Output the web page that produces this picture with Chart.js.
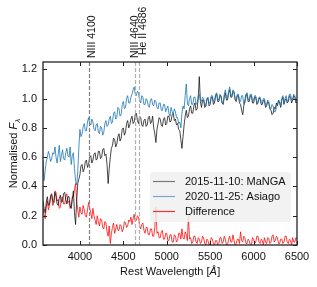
<!DOCTYPE html>
<html>
<head>
<meta charset="utf-8">
<script src="https://cdn.jsdelivr.net/npm/chart.js@4"></script>
<style>
  body { margin: 0; background: #fff; }
</style>
</head>
<body>
<canvas id="specChart" width="317" height="287"></canvas>
<script>
// wavelength grid (Angstrom), one sample every 12.5 A starting at 3575
const waveStart = 3575
const waveStep = 12.5

// 2015-11-10 MaNGA spectrum (one row = 250 A)
const manga = [
  0.30, 0.25, 0.22, 0.29, 0.33, 0.27, 0.28, 0.34, 0.35, 0.30, 0.29, 0.36, 0.33, 0.28, 0.27, 0.32, 0.34, 0.29, 0.30, 0.35,
  0.36, 0.31, 0.28, 0.33, 0.33, 0.27, 0.25, 0.31, 0.37, 0.22, 0.14, 0.30, 0.42, 0.45, 0.48, 0.54, 0.55, 0.50, 0.52, 0.57,
  0.58, 0.53, 0.55, 0.60, 0.61, 0.56, 0.58, 0.62, 0.63, 0.58, 0.59, 0.64, 0.64, 0.59, 0.60, 0.65, 0.66, 0.61, 0.62, 0.55,
  0.42, 0.52, 0.60, 0.66, 0.68, 0.73, 0.72, 0.67, 0.69, 0.74, 0.76, 0.71, 0.73, 0.79, 0.80, 0.75, 0.77, 0.83, 0.85, 0.80,
  0.82, 0.86, 0.88, 0.83, 0.84, 0.89, 0.90, 0.85, 0.83, 0.88, 0.87, 0.82, 0.81, 0.85, 0.86, 0.81, 0.82, 0.87, 0.88, 0.83,
  0.84, 0.88, 0.80, 0.76, 0.70, 0.79, 0.83, 0.87, 0.86, 0.82, 0.81, 0.86, 0.87, 0.82, 0.83, 0.88, 0.88, 0.84, 0.85, 0.89,
  0.90, 0.85, 0.86, 0.82, 0.83, 0.79, 0.78, 0.72, 0.66, 0.74, 0.82, 0.88, 0.92, 0.87, 0.88, 0.93, 0.95, 0.90, 0.90, 0.95,
  0.97, 0.92, 0.93, 1.00, 1.15, 0.98, 0.94, 0.99, 0.99, 0.94, 0.95, 1.00, 1.00, 0.95, 0.96, 1.01, 1.01, 0.96, 0.97, 1.02,
  1.03, 0.98, 0.98, 1.02, 1.02, 0.97, 0.96, 1.01, 1.04, 0.99, 0.99, 1.04, 1.06, 1.01, 1.01, 1.05, 1.04, 0.99, 0.98, 1.02,
  1.02, 0.97, 0.96, 0.92, 0.89, 0.95, 0.99, 1.03, 1.03, 0.98, 0.98, 1.02, 1.02, 0.97, 0.97, 1.01, 1.01, 0.96, 0.97, 1.00,
  1.00, 0.96, 0.96, 0.99, 0.99, 0.94, 0.95, 0.98, 0.97, 0.93, 0.92, 0.89, 0.90, 0.94, 0.93, 0.97, 0.95, 0.99, 0.97, 0.94,
  0.99, 1.01, 0.96, 0.99, 1.00, 0.97, 0.98, 1.02, 1.01, 0.97, 0.99, 1.02, 1.01, 0.97, 0.98
]
// 2020-11-25 Asiago spectrum
const asiago = [
  0.58, 0.44, 0.51, 0.57, 0.60, 0.64, 0.61, 0.57, 0.59, 0.63, 0.62, 0.67, 0.60, 0.56, 0.62, 0.68, 0.57, 0.61, 0.65, 0.59,
  0.58, 0.63, 0.66, 0.61, 0.60, 0.67, 0.55, 0.61, 0.63, 0.52, 0.44, 0.41, 0.50, 0.66, 0.79, 0.74, 0.76, 0.81, 0.83, 0.78,
  0.78, 0.84, 0.87, 0.83, 0.82, 0.86, 0.84, 0.79, 0.78, 0.82, 0.83, 0.77, 0.76, 0.81, 0.80, 0.75, 0.77, 0.83, 0.85, 0.81,
  0.82, 0.86, 0.88, 0.83, 0.84, 0.90, 0.91, 0.86, 0.87, 0.94, 0.93, 0.88, 0.89, 0.96, 0.98, 0.93, 0.94, 1.00, 1.02, 0.97,
  0.97, 1.01, 1.03, 1.06, 1.08, 1.03, 1.02, 1.05, 1.04, 0.99, 0.97, 1.02, 1.01, 0.96, 0.96, 1.00, 0.99, 0.95, 0.94, 0.99,
  1.00, 0.96, 0.95, 0.99, 0.98, 0.94, 0.93, 0.97, 0.97, 0.92, 0.92, 0.96, 0.96, 0.91, 0.93, 0.95, 0.90, 0.88, 0.94, 0.91,
  0.89, 0.93, 0.91, 0.87, 0.87, 0.83, 0.84, 0.80, 0.90, 0.95, 0.93, 1.02, 1.10, 0.97, 0.95, 1.00, 1.02, 0.96, 0.96, 1.01,
  1.01, 0.96, 0.97, 1.02, 1.03, 0.99, 0.98, 1.01, 1.00, 0.96, 0.95, 0.99, 1.01, 0.97, 0.97, 1.02, 1.02, 0.98, 0.98, 1.03,
  1.04, 1.00, 0.99, 1.03, 1.01, 0.97, 0.97, 1.03, 1.06, 1.01, 1.00, 1.05, 1.08, 1.03, 1.02, 1.06, 1.05, 1.00, 0.99, 1.03,
  1.03, 0.99, 0.98, 1.02, 1.02, 0.96, 0.97, 1.01, 1.04, 0.99, 1.00, 1.03, 1.03, 0.98, 0.99, 1.02, 1.02, 0.97, 0.98, 1.01,
  1.01, 0.98, 0.97, 1.00, 1.00, 0.95, 0.96, 0.99, 0.98, 0.94, 0.93, 0.96, 0.95, 0.91, 0.91, 0.94, 0.96, 0.99, 0.98, 0.95,
  1.00, 1.02, 0.97, 1.00, 1.02, 0.98, 0.99, 1.03, 1.03, 0.99, 1.00, 1.03, 1.02, 0.98, 0.99
]
// difference spectrum
const difference = [
  0.25, 0.21, 0.18, 0.26, 0.30, 0.24, 0.27, 0.33, 0.34, 0.27, 0.29, 0.37, 0.36, 0.30, 0.31, 0.25, 0.26, 0.32, 0.33, 0.28,
  0.28, 0.33, 0.35, 0.29, 0.30, 0.25, 0.27, 0.33, 0.33, 0.38, 0.42, 0.30, 0.24, 0.19, 0.26, 0.22, 0.21, 0.27, 0.24, 0.20,
  0.19, 0.24, 0.29, 0.25, 0.22, 0.18, 0.25, 0.20, 0.17, 0.14, 0.20, 0.16, 0.13, 0.18, 0.17, 0.12, 0.11, 0.16, 0.15, 0.09,
  0.06, 0.13, 0.01, 0.08, 0.12, 0.15, 0.08, 0.11, 0.14, 0.10, 0.10, 0.14, 0.13, 0.09, 0.11, 0.16, 0.15, 0.12, 0.13, 0.17,
  0.16, 0.19, 0.14, 0.18, 0.21, 0.16, 0.17, 0.20, 0.19, 0.13, 0.11, 0.14, 0.15, 0.10, 0.08, 0.12, 0.12, 0.07, 0.07, 0.11,
  0.11, 0.06, 0.06, 0.12, 0.26, 0.08, 0.09, 0.05, 0.05, 0.09, 0.10, 0.04, 0.04, 0.08, 0.08, 0.03, 0.03, 0.07, 0.07, 0.02,
  0.02, 0.07, 0.06, 0.02, 0.03, 0.08, 0.08, 0.04, 0.11, 0.05, 0.04, 0.09, 0.07, 0.03, 0.20, 0.04, 0.05, 0.01, 0.02, 0.06,
  0.06, 0.02, 0.01, 0.05, 0.04, 0.01, 0.02, 0.06, 0.05, 0.01, 0.00, 0.04, 0.03, 0.00, 0.01, 0.05, 0.04, 0.01, 0.00, 0.03,
  0.03, 0.00, 0.01, 0.05, 0.05, 0.01, 0.02, 0.06, 0.04, 0.00, 0.00, 0.04, 0.06, 0.02, 0.02, 0.07, 0.03, 0.00, 0.01, 0.04,
  0.04, 0.01, 0.09, 0.03, 0.02, 0.06, 0.05, 0.01, 0.01, 0.04, 0.03, 0.00, 0.00, 0.05, 0.04, 0.01, 0.02, 0.06, 0.06, 0.02,
  0.01, 0.04, 0.03, 0.00, 0.05, 0.02, 0.01, 0.05, 0.04, 0.01, 0.02, 0.06, 0.07, 0.02, 0.03, 0.06, 0.05, 0.01, 0.01, 0.04,
  0.04, 0.01, 0.02, 0.06, 0.06, 0.02, 0.01, 0.04, 0.03, 0.00, 0.05, 0.02, 0.02, 0.05, 0.04
]

const xTicks = [4000, 4500, 5000, 5500, 6000, 6500]
const yTicks = [0.0, 0.2, 0.4, 0.6, 0.8, 1.0, 1.2]
const lineWaves = [4100, 4640, 4686]
const lineNames = ['NIII 4100', 'NIII 4640', 'He II 4686']
const seriesNames = ['2015-11-10: MaNGA', '2020-11-25: Asiago', 'Difference']

const FONT = '"Liberation Sans", Arial, sans-serif'
const colors = {
  black: 'rgba(15, 15, 15, 0.85)',
  blue: 'rgba(31, 119, 180, 0.9)',
  red: 'rgba(255, 0, 0, 0.85)'
}

function toPoints(vals) {
  return vals.map((v, i) => ({ x: waveStart + i * waveStep, y: v }))
}

// frame, inward ticks, line markers, legend, axis titles
const decor = {
  id: 'decor',
  afterDatasetsDraw(chart) {
    const ctx = chart.ctx
    const a = chart.chartArea
    const xs = chart.scales.x
    const ys = chart.scales.y
    ctx.save()

    // emission line markers
    lineWaves.forEach((w, k) => {
      const px = Math.round(xs.getPixelForValue(w)) + 0.5
      ctx.strokeStyle = k === 0 ? '#808080' : '#b0b0b0'
      ctx.lineWidth = 1.2
      ctx.setLineDash([4, 2])
      ctx.beginPath()
      ctx.moveTo(px, a.top)
      ctx.lineTo(px, a.bottom)
      ctx.stroke()
    })
    ctx.setLineDash([])

    // legend box
    const lw = 141, lh = 50
    const lx = a.right - 6 - lw
    const ly = a.bottom - 23 - lh
    ctx.fillStyle = 'rgba(240, 240, 240, 0.85)'
    ctx.beginPath()
    ctx.roundRect(lx, ly, lw, lh, 3)
    ctx.fill()
    const legCols = ['rgba(40,40,40,0.6)', 'rgba(31,119,180,0.6)', 'rgba(255,0,0,0.8)']
    ctx.font = '11px ' + FONT
    ctx.textBaseline = 'middle'
    ctx.textAlign = 'left'
    seriesNames.forEach((name, k) => {
      const ry = ly + 9.5 + k * 15
      ctx.strokeStyle = legCols[k]
      ctx.lineWidth = 1.2
      ctx.beginPath()
      ctx.moveTo(lx + 3, ry)
      ctx.lineTo(lx + 25, ry)
      ctx.stroke()
      ctx.fillStyle = '#111'
      ctx.fillText(name, lx + 35, ry)
    })

    // frame
    ctx.strokeStyle = '#222'
    ctx.lineWidth = 1.3
    ctx.strokeRect(a.left, a.top, a.right - a.left, a.bottom - a.top)

    // inward ticks on all four sides
    ctx.lineWidth = 1
    ctx.beginPath()
    xTicks.forEach(v => {
      const px = Math.round(xs.getPixelForValue(v)) + 0.5
      ctx.moveTo(px, a.bottom); ctx.lineTo(px, a.bottom - 4)
      ctx.moveTo(px, a.top); ctx.lineTo(px, a.top + 4)
    })
    yTicks.forEach(v => {
      const py = Math.round(ys.getPixelForValue(v)) + 0.5
      ctx.moveTo(a.left, py); ctx.lineTo(a.left + 4, py)
      ctx.moveTo(a.right, py); ctx.lineTo(a.right - 4, py)
    })
    ctx.stroke()

    // rotated line labels above the plot (baseline offset from the line)
    const labOff = [6.5, 2.5, 7]
    const labBottom = [58, 58, 55]
    ctx.fillStyle = '#111'
    ctx.font = '10.5px ' + FONT
    ctx.textBaseline = 'alphabetic'
    ctx.textAlign = 'left'
    lineNames.forEach((name, k) => {
      const px = xs.getPixelForValue(lineWaves[k]) + labOff[k]
      ctx.save()
      ctx.translate(px, labBottom[k])
      ctx.rotate(-Math.PI / 2)
      ctx.fillText(name, 0, 0)
      ctx.restore()
    })

    // x title with italic angstrom
    const cx = (a.left + a.right) / 2
    const p1 = 'Rest Wavelength [', p2 = 'Å', p3 = ']'
    ctx.font = '11px ' + FONT
    const w1 = ctx.measureText(p1).width, w3 = ctx.measureText(p3).width
    ctx.font = 'italic 11px ' + FONT
    const w2 = ctx.measureText(p2).width
    const tx = cx - (w1 + w2 + w3) / 2
    const ty = 275
    ctx.font = '11px ' + FONT
    ctx.fillText(p1, tx, ty)
    ctx.font = 'italic 11px ' + FONT
    ctx.fillText(p2, tx + w1, ty)
    ctx.font = '11px ' + FONT
    ctx.fillText(p3, tx + w1 + w2 + 0.5, ty)

    // y title: Normalised F_lambda
    const q1 = 'Normalised ', q2 = 'F', q3 = 'λ'
    ctx.font = '11px ' + FONT
    const v1 = ctx.measureText(q1).width
    ctx.font = 'italic 11px ' + FONT
    const v2 = ctx.measureText(q2).width
    ctx.font = 'italic 8px ' + FONT
    const v3 = ctx.measureText(q3).width
    const cy = (a.top + a.bottom) / 2
    ctx.save()
    ctx.translate(17, cy)
    ctx.rotate(-Math.PI / 2)
    const sx = -(v1 + v2 + v3) / 2
    ctx.font = '11px ' + FONT
    ctx.fillText(q1, sx, 0)
    ctx.font = 'italic 11px ' + FONT
    ctx.fillText(q2, sx + v1, 0)
    ctx.font = 'italic 8px ' + FONT
    ctx.fillText(q3, sx + v1 + v2, 2.5)
    ctx.restore()

    ctx.restore()
  }
}

const ctx = document.getElementById('specChart')
const chart = new Chart(ctx, {
  type: 'line',
  data: {
    datasets: [
      { label: seriesNames[0], data: toPoints(manga), borderColor: colors.black, order: 2 },
      { label: seriesNames[1], data: toPoints(asiago), borderColor: colors.blue, order: 1 },
      { label: seriesNames[2], data: toPoints(difference), borderColor: colors.red, order: 3 }
    ]
  },
  options: {
    responsive: false,
    animation: false,
    layout: { padding: { left: 0, top: 62, right: 20, bottom: 0 } },
    elements: {
      point: { radius: 0 },
      line: { borderWidth: 0.9, tension: 0 }
    },
    plugins: {
      legend: { display: false },
      tooltip: { enabled: false }
    },
    scales: {
      x: {
        type: 'linear',
        min: 3575,
        max: 6500,
        grid: { display: false, drawTicks: false },
        border: { display: false },
        ticks: {
          font: { family: FONT, size: 11 }, color: '#111', padding: 5,
          callback: v => String(v)
        },
        afterBuildTicks: axis => { axis.ticks = xTicks.map(v => ({ value: v })) },
        afterFit: axis => { axis.height = 42 }
      },
      y: {
        min: 0,
        max: 1.25,
        grid: { display: false, drawTicks: false },
        border: { display: false },
        ticks: {
          font: { family: FONT, size: 11 }, color: '#111', padding: 6,
          callback: v => v.toFixed(1)
        },
        afterBuildTicks: axis => { axis.ticks = yTicks.map(v => ({ value: v })) },
        afterFit: axis => { axis.width = 43 }
      }
    }
  },
  plugins: [decor]
})
</script>
</body>
</html>
